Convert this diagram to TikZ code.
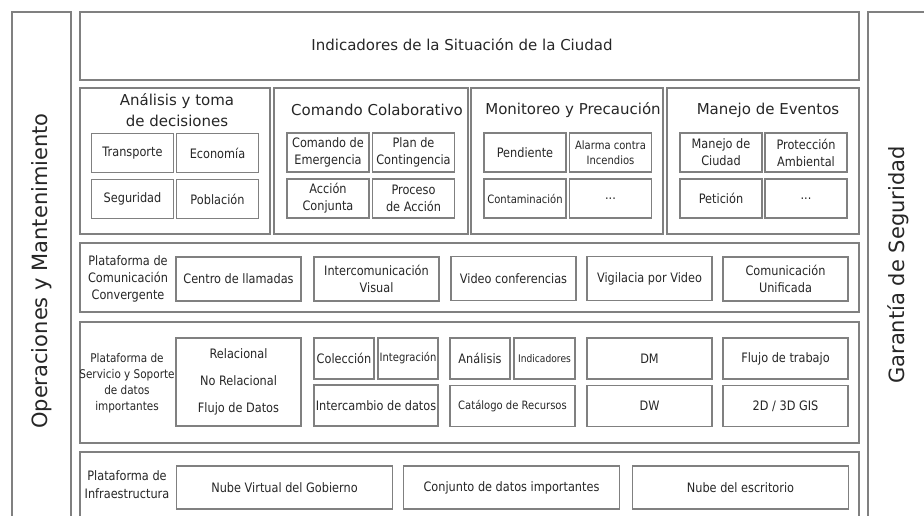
\documentclass[tikz,border=0pt]{standalone}
\usepackage{fontspec}
\setmainfont{DejaVu Sans}
\newfontfamily\narrowfont[FakeStretch=0.87]{DejaVu Sans}
\usepackage{tikz}

\begin{document}
\begin{tikzpicture}[x=1pt,y=-1pt,
  box/.style={draw=gray,line width=1.2pt,inner sep=0pt},
  cell/.style={box,align=center,text=black!85,font=\narrowfont\fontsize{13}{17}\selectfont},
  fine/.style={font=\narrowfont\fontsize{11.5}{15}\selectfont},
  sq/.style={cell,minimum width=82pt,minimum height=39pt},
  wide/.style={cell,minimum width=125pt,minimum height=44pt},
  half/.style={cell,minimum width=60pt,minimum height=41pt},
  long/.style={cell,minimum width=125pt,minimum height=41pt},
  nube/.style={cell,minimum width=216pt,minimum height=43pt},
  lbl/.style={align=center,inner sep=0pt,text=black!85,font=\narrowfont\fontsize{13}{17}\selectfont},
  head/.style={align=center,inner sep=0pt,text=black!85,font=\fontsize{15}{21}\selectfont},
  side/.style={rotate=90,inner sep=0pt,text=black!85,font=\fontsize{21}{25}\selectfont}]
\useasboundingbox (0,0) rectangle (924,516);
\clip (0,0) rectangle (924,516);
\node[box,minimum width=59pt,minimum height=530pt] (opsbox) at (41.5,277) {};
\node[side] (ops) at (41.5,271) {Operaciones y Mantenimiento};
\node[box,minimum width=59pt,minimum height=530pt] (garbox) at (897.5,277) {};
\node[side] (gar) at (898,265) {Garantía de Seguridad};
\node[box,minimum width=779pt,minimum height=68pt] (ind) at (469.5,46) {};
\node[head] (indt) at (462,45) {Indicadores de la Situación de la Ciudad};
\node[box,minimum width=190pt,minimum height=146pt] (ana) at (175,161) {};
\node[box,minimum width=194pt,minimum height=146pt] (com) at (371,161) {};
\node[box,minimum width=192pt,minimum height=146pt] (mon) at (567,161) {};
\node[box,minimum width=192pt,minimum height=146pt] (man) at (763,161) {};
\node[head] (anat) at (177,110.5) {Análisis y toma\\de decisiones};
\node[head] (comt) at (377,110) {Comando Colaborativo};
\node[head] (mont) at (573,110) {Monitoreo y Precaución};
\node[head] (mant) at (768,110) {Manejo de Eventos};
\node[sq] (tra) at (132.5,153) {Transporte};
\node[sq] (eco) at (217.5,153) {Economía};
\node[sq] (sgd) at (132.5,199) {Seguridad};
\node[sq] (pob) at (217.5,199) {Población};
\node[sq] (cem) at (328,152.5) {Comando de\\Emergencia};
\node[sq] (pco) at (413.5,152.5) {Plan de\\Contingencia};
\node[sq] (acj) at (328,198.5) {Acción\\Conjunta};
\node[sq] (pac) at (413.5,198.5) {Proceso\\de Acción};
\node[sq] (pen) at (525,152.5) {Pendiente};
\node[sq,fine] (ala) at (610.5,152.5) {Alarma contra\\Incendios};
\node[sq,fine] (cnt) at (525,198.5) {Contaminación};
\node[sq] (mo4) at (610.5,198.5) {...};
\node[sq] (mci) at (721,152.5) {Manejo de\\Ciudad};
\node[sq] (pam) at (806,152.5) {Protección\\Ambiental};
\node[sq] (pet) at (721,198.5) {Petición};
\node[sq] (me4) at (806,198.5) {...};
\node[box,minimum width=779pt,minimum height=69pt] (ccp) at (469.5,277.5) {};
\node[lbl] (ccpt) at (128,279) {Plataforma de\\Comunicación\\Convergente};
\node[wide] (cll) at (238.5,279) {Centro de llamadas};
\node[wide] (icv) at (376.5,279) {Intercomunicación\\Visual};
\node[wide] (vco) at (513.5,278.5) {Video conferencias};
\node[wide] (vpv) at (649.5,278.5) {Vigilacia por Video};
\node[wide] (cun) at (785.5,279) {Comunicación\\Unificada};
\node[box,minimum width=779pt,minimum height=121pt] (ssd) at (469.5,382.5) {};
\node[lbl,font=\narrowfont\fontsize{12}{16}\selectfont] (ssdt) at (127,383) {Plataforma de\\Servicio y Soporte\\de datos\\importantes};
\node[cell,minimum width=125pt,minimum height=88pt] (rel) at (238.5,382) {Relacional\\[10pt]No Relacional\\[10pt]Flujo de Datos};
\node[half] (col) at (344,358.5) {Colección};
\node[half,fine] (itg) at (408,358.5) {Integración};
\node[long,minimum width=124pt] (icd) at (376,405.5) {Intercambio de datos};
\node[half] (anl) at (480,358.5) {Análisis};
\node[half,minimum width=61pt,font=\narrowfont\fontsize{10.5}{13}\selectfont] (idc) at (544.5,358.5) {Indicadores};
\node[long,fine] (cat) at (512.5,406) {Catálogo de Recursos};
\node[long] (dm) at (649.5,358.5) {DM};
\node[long] (dw) at (649.5,406) {DW};
\node[long] (flu) at (785.5,358.5) {Flujo de trabajo};
\node[long] (gis) at (785.5,406) {2D / 3D GIS};
\node[box,minimum width=779pt,minimum height=80pt] (inf) at (469.5,492) {};
\node[lbl,font=\narrowfont\fontsize{13}{18}\selectfont] (inft) at (127,485) {Plataforma de\\Infraestructura};
\node[nube] (nvg) at (284.5,487.5) {Nube Virtual del Gobierno};
\node[nube] (cdi) at (511.5,487.5) {Conjunto de datos importantes};
\node[nube] (nde) at (740.5,487.5) {Nube del escritorio};
\end{tikzpicture}
\end{document}
